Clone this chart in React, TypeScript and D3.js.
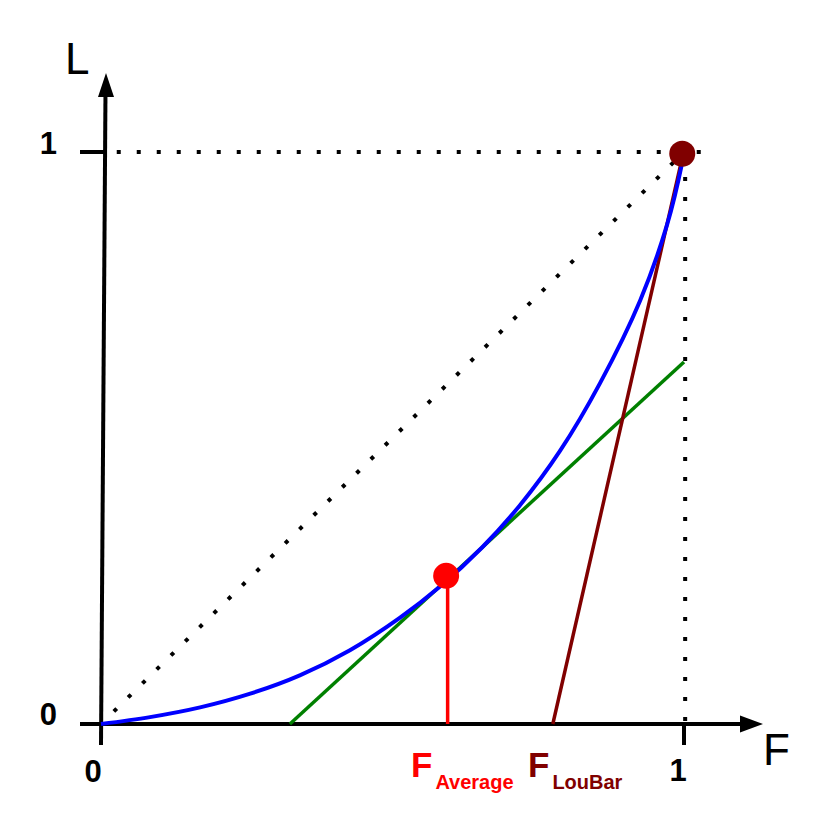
import React, { useRef, useEffect } from 'react';
import * as d3 from 'd3';

// Lorenz curve (F = share of population, L = share of income)
const curveF = [0, 0.084, 0.17, 0.256, 0.341, 0.427, 0.513, 0.581, 0.654, 0.719, 0.787, 0.856, 0.925, 0.971, 0.997, 1];
const curveL = [0, 0.012, 0.029, 0.053, 0.085, 0.129, 0.186, 0.24, 0.309, 0.383, 0.477, 0.596, 0.741, 0.873, 0.982, 1];

// Special points
const averagePoint = [0.592, 0.259];
const topPoint = [0.997, 0.997];

// Tangent at the average point (green) and the LouBar line (dark red)
const tangentF = [0.324, 1];
const tangentL = [0, 0.633];
const louBarF = [0.775, 0.997];
const louBarL = [0, 0.99];

const axisTicks = ['0', '1'];

const App = () => {
    const chartRef = useRef(null);

    useEffect(() => {
        const size = 830;
        const font = "'Liberation Sans', Arial, sans-serif";

        d3.select(chartRef.current).select('svg').remove();

        const svg = d3.select(chartRef.current)
            .append('svg')
            .attr('width', size)
            .attr('height', size)
            .style('position', 'absolute')
            .style('left', 0)
            .style('top', 0)
            .style('background', '#fff');

        const x = d3.scaleLinear().domain([0, 1]).range([101, 684]);
        const y = d3.scaleLinear().domain([0, 1]).range([724, 152]);

        const line = d3.line<[number, number]>()
            .x(d => x(d[0]))
            .y(d => y(d[1]));

        // dotted guides
        const dotted = (pts: [number, number][]) => svg.append('path')
            .attr('d', line(pts))
            .attr('fill', 'none')
            .attr('stroke', '#000')
            .attr('stroke-width', 4)
            .attr('stroke-dasharray', '4,16');

        dotted([[0.027, 1], [1.03, 1]]).attr('stroke-dashoffset', 0);
        dotted([[1.002, 1], [1.002, 0]]).attr('stroke-dashoffset', -5);
        dotted([[0, 0], [1, 1]]).attr('stroke-dashoffset', -18);

        // axes
        svg.append('line')
            .attr('x1', 80).attr('y1', y(0))
            .attr('x2', 745).attr('y2', y(0))
            .attr('stroke', '#000').attr('stroke-width', 4);
        svg.append('polygon')
            .attr('points', [[763, y(0)], [740, y(0) - 8.5], [740, y(0) + 8.5]].join(' '))
            .attr('fill', '#000');

        svg.append('line')
            .attr('x1', x(0)).attr('y1', 745)
            .attr('x2', 105.5).attr('y2', 90)
            .attr('stroke', '#000').attr('stroke-width', 4);
        svg.append('polygon')
            .attr('points', [[106, 73], [98, 97], [114, 97]].join(' '))
            .attr('fill', '#000');

        // ticks
        svg.append('line')
            .attr('x1', 80).attr('y1', y(1))
            .attr('x2', 105).attr('y2', y(1))
            .attr('stroke', '#000').attr('stroke-width', 4);
        svg.append('line')
            .attr('x1', x(1)).attr('y1', y(0))
            .attr('x2', x(1)).attr('y2', 745)
            .attr('stroke', '#000').attr('stroke-width', 4);

        // tangent + LouBar lines
        svg.append('path')
            .attr('d', line(tangentF.map((f, i) => [f, tangentL[i]] as [number, number])))
            .attr('stroke', '#008000').attr('stroke-width', 3.5).attr('fill', 'none');
        svg.append('path')
            .attr('d', line(louBarF.map((f, i) => [f, louBarL[i]] as [number, number])))
            .attr('stroke', '#800000').attr('stroke-width', 3.5).attr('fill', 'none');

        // Lorenz curve
        svg.append('path')
            .attr('d', d3.line<[number, number]>()
                .x(d => x(d[0]))
                .y(d => y(d[1]))
                .curve(d3.curveCatmullRom.alpha(0.5))(curveF.map((f, i) => [f, curveL[i]] as [number, number])))
            .attr('stroke', '#0000ff').attr('stroke-width', 4).attr('fill', 'none');

        // average drop line + points
        svg.append('line')
            .attr('x1', x(averagePoint[0]) + 1.5).attr('y1', y(0))
            .attr('x2', x(averagePoint[0]) + 1.5).attr('y2', y(averagePoint[1]))
            .attr('stroke', '#ff0000').attr('stroke-width', 3.5);
        svg.append('circle')
            .attr('cx', x(averagePoint[0])).attr('cy', y(averagePoint[1]))
            .attr('r', 13).attr('fill', '#ff0000');
        svg.append('circle')
            .attr('cx', x(topPoint[0])).attr('cy', y(topPoint[1]))
            .attr('r', 13).attr('fill', '#800000');

        // tick labels
        const label = (tx: number, ty: number, s: string, anchor = 'middle') => svg.append('text')
            .attr('x', tx).attr('y', ty)
            .attr('text-anchor', anchor)
            .attr('font-family', font)
            .attr('font-weight', 'bold')
            .attr('font-size', 31)
            .text(s);

        label(57, y(0) + 1, axisTicks[0], 'end');
        label(57, y(1) + 2, axisTicks[1], 'end');
        label(x(0) - 8, 782, axisTicks[0]);
        label(x(1) - 6, 781, axisTicks[1]);

        // axis names
        svg.append('text')
            .attr('x', 65).attr('y', 74)
            .attr('font-family', font).attr('font-size', 44)
            .text('L');
        svg.append('text')
            .attr('x', 763).attr('y', 765)
            .attr('font-family', font).attr('font-size', 44)
            .text('F');

        // F labels with subscripts
        const subLabel = (tx: number, main: string, sub: string, color: string) => {
            const t = svg.append('text')
                .attr('x', tx).attr('y', 777)
                .attr('font-family', font)
                .attr('font-weight', 'bold')
                .attr('fill', color);
            t.append('tspan').attr('font-size', 35).text(main);
            t.append('tspan').attr('font-size', 20).attr('dx', 3).attr('dy', 12).text(sub);
        };
        subLabel(411, 'F', 'Average', '#ff0000');
        subLabel(528, 'F', 'LouBar', '#800000');
    }, []);

    return <div ref={chartRef}></div>;
};

export default App;
